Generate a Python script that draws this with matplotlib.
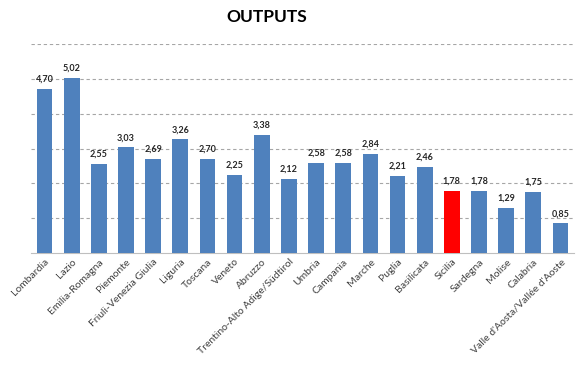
import numpy as np
import matplotlib.pyplot as plt

regions = ["Lombardia", "Lazio", "Emilia-Romagna", "Piemonte", "Friuli-Venezia Giulia",
           "Liguria", "Toscana", "Veneto", "Abruzzo", "Trentino-Alto Adige/Südtirol",
           "Umbria", "Campania", "Marche", "Puglia", "Basilicata", "Sicilia",
           "Sardegna", "Molise", "Calabria", "Valle d'Aosta/Vallée d'Aoste"]
outputs = [4.70, 5.02, 2.55, 3.03, 2.69, 3.26, 2.70, 2.25, 3.38, 2.12,
           2.58, 2.58, 2.84, 2.21, 2.46, 1.78, 1.78, 1.29, 1.75, 0.85]
highlight = "Sicilia"

plt.rcParams['font.family'] = ['Lato', 'DejaVu Sans']

fig = plt.figure(figsize=(5.77, 3.65), dpi=100)
ax = fig.add_axes([31 / 577, 1 - 253 / 365, 543 / 577, 209 / 365])

x = np.arange(len(regions))
colors = ["#ff0000" if r == highlight else "#4f81bd" for r in regions]
ax.bar(x, outputs, 0.58, color=colors, zorder=3)

for xi, v in zip(x, outputs):
    ax.text(xi, v + 0.15, f"{v:.2f}".replace(".", ","), ha="center", va="bottom",
            fontsize=6.5, fontweight="bold", color="#262626", zorder=4)

ax.set_xlim(-0.5, len(regions) - 0.5)
ax.set_ylim(0, 6)
ax.set_yticks(np.arange(1, 7))
ax.yaxis.grid(True, linestyle=(0, (3, 2.5)), color="#a6a6a6", linewidth=0.8, zorder=0)
ax.tick_params(axis="y", left=False, labelleft=False)
ax.tick_params(axis="x", length=0, pad=3)
ax.set_xticks(x)
ax.set_xticklabels(regions, rotation=45, ha="right", rotation_mode="anchor",
                   fontsize=7.5, color="#404040")
for s in ["top", "right", "left"]:
    ax.spines[s].set_visible(False)
ax.spines["bottom"].set_color("#bfbfbf")

fig.text(267 / 577, 1 - 17 / 365, "OUTPUTS", ha="center", va="center",
         fontsize=12.5, fontweight="bold", color="black")

plt.savefig("out.png", dpi=100)
